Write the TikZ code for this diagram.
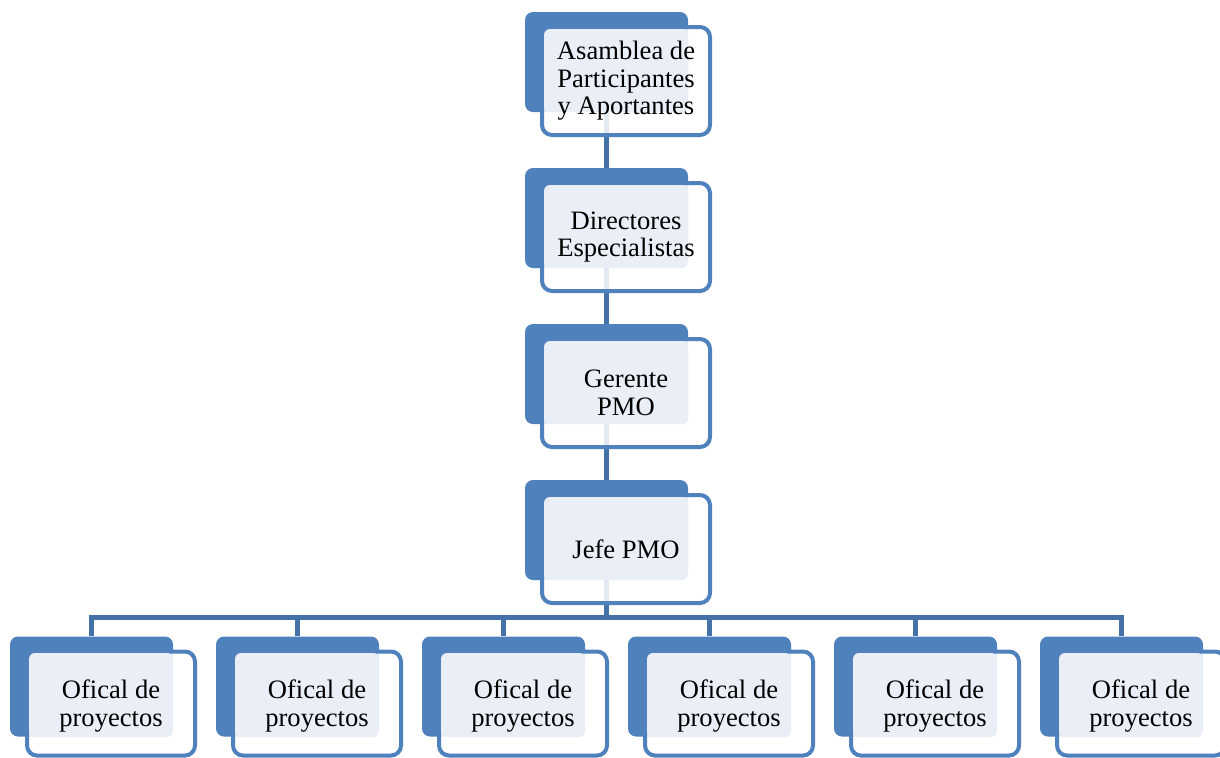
\documentclass[tikz,border=0pt]{standalone}
\usepackage{fontspec}
\setmainfont{Liberation Serif}
\usetikzlibrary{backgrounds}
\definecolor{orgblue}{RGB}{79,129,189}
\definecolor{orgline}{RGB}{68,113,168}
\definecolor{orglight}{RGB}{234,239,247}
\begin{document}
\begin{tikzpicture}[x=0.5pt,y=-0.5pt,
    back/.style={fill=orgblue,rounded corners=4pt,minimum width=81.5pt,minimum height=50pt,inner sep=0},
    front/.style={draw=orgblue,line width=2pt,fill=white,fill opacity=0.85,rounded corners=5pt,minimum width=84pt,minimum height=54pt,inner sep=0},
    light/.style={fill=orglight,rounded corners=3pt,minimum width=72pt,minimum height=41.5pt,inner sep=0},
    txt/.style={align=center,font=\fontsize{13.3pt}{13.8pt}\selectfont,inner sep=0},
    conn/.style={draw=orgline,line width=2.5pt}]
    \useasboundingbox (0,0) rectangle (1220,757);
    \foreach \y/\t [count=\i] in {62/{Asamblea de\\Participantes\\y Aportantes},218/{Directores\\Especialistas},374/{Gerente\\PMO},530/{Jefe PMO}}{
        \node[back] (b\i) at (606.5,\y) {};
        \node[front] (f\i) at (626,\y+19) {};
        \node[light] (l\i) at (616,\y+8.5) {};
        \node[txt] (t\i) at (626,\y+19) {\t};
    }
    \foreach \i in {1,...,6}{
        \pgfmathsetmacro\x{91.5+206*(\i-1)}
        \node[back] (ob\i) at (\x,686.5) {};
        \node[front,minimum height=52pt] (of\i) at (\x+19.5,703.5) {};
        \node[light,minimum height=42pt] (ol\i) at (\x+9.5,695) {};
        \node[txt] (ot\i) at (\x+19.5,706) {Ofical de\\proyectos};
    }
    \begin{scope}[on background layer]
        \draw[conn] (b1.south) -- (b2.north);
        \draw[conn] (b2.south) -- (b3.north);
        \draw[conn] (b3.south) -- (b4.north);
        \coordinate (bus) at (606.5,617);
        \draw[conn] (b4.south) -- (bus);
        \draw[conn] (ob1.north) |- (bus) -| (ob6.north);
        \foreach \i in {2,...,5} \draw[conn] (ob\i.north) -- (ob\i.north |- bus);
    \end{scope}
\end{tikzpicture}
\end{document}
